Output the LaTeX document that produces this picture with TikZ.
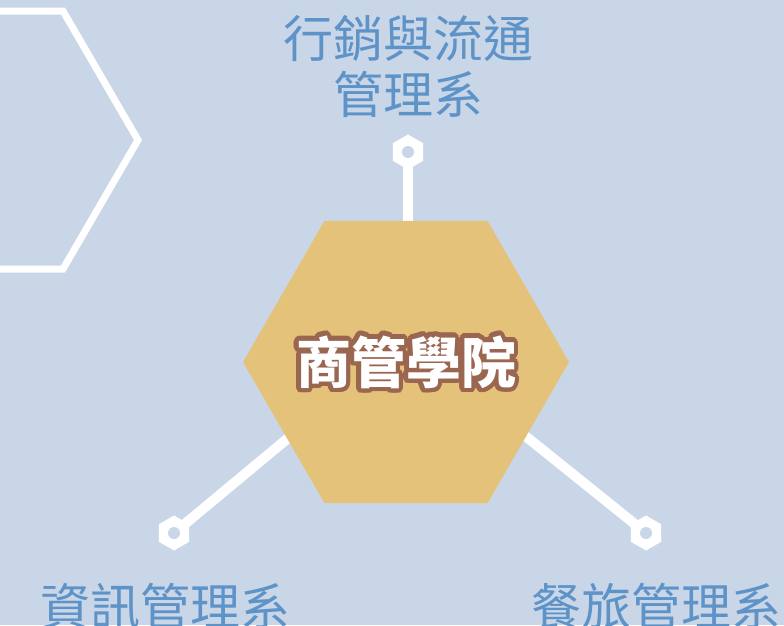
\documentclass[tikz,border=0pt]{standalone}
\usepackage{fontspec}
\newfontfamily\cjk{Noto Sans CJK TC}
\usetikzlibrary{shapes.geometric}
\definecolor{bgblue}{HTML}{C9D6E8}
\definecolor{hexgold}{HTML}{E5C27A}
\definecolor{deptblue}{HTML}{5E93C8}
\definecolor{rimbrown}{HTML}{9A6650}
\pgfdeclarelayer{bg}
\pgfsetlayers{bg,main}

\begin{document}
\begin{tikzpicture}
  [x=1pt,y=-1pt,
   college/.style={regular polygon,regular polygon sides=6,fill=hexgold,
                   inner sep=0pt,outer sep=0pt,minimum size=326pt},
   nut/.style={regular polygon,regular polygon sides=6,shape border rotate=30,
               fill=white,inner sep=0pt,minimum size=35pt},
   hole/.style={circle,fill=bgblue,inner sep=0pt,minimum size=12pt},
   link/.style={draw=white,line width=10pt},
   frame/.style={draw=white,line width=7pt,line join=miter},
   dept/.style={font=\cjk\fontsize{50}{56}\selectfont,text=deptblue,align=center},
   titletext/.style={font=\cjk\bfseries\fontsize{55}{55}\selectfont,inner sep=0pt}]
  \useasboundingbox (0,0) rectangle (784,625);
  \clip (0,0) rectangle (784,625);

  % big outline hexagon cut by the left edge
  \draw[frame] (138,140) -- (63,11) -- (-87,11) -- (-162,140)
               -- (-87,269) -- (63,269) -- cycle;

  % college and its three departments
  \node[college] (college) at (406,362) {};
  \coordinate (hub) at (406,340);
  \node[nut] (nutTop) at (408,152) {};
  \node[nut] (nutLeft) at (174,533) {};
  \node[nut] (nutRight) at (646,533) {};
  \foreach \n in {nutTop,nutLeft,nutRight}
    \node[hole] at (\n.center) {};

  \begin{pgfonlayer}{bg}
    \fill[bgblue] (0,0) rectangle (784,625);
    \draw[link] (nutTop.center) -- (nutTop |- college.center);
    \draw[link] (nutLeft.center) -- (hub);
    \draw[link] (nutRight.center) -- (hub);
  \end{pgfonlayer}

  % title with a brown rim
  \foreach \a in {0,15,...,345}
    \node[titletext,text=rimbrown] at ([shift={(\a:4.5)}]college.center) {商管學院};
  \node[titletext,text=white] (title) at (college.center) {商管學院};

  % department labels
  \node[dept] (mkt) at (408,66) {行銷與流通\\管理系};
  \node[dept] (im) at (165,606) {資訊管理系};
  \node[dept] (hosp) at (656,606) {餐旅管理系};
\end{tikzpicture}
\end{document}
